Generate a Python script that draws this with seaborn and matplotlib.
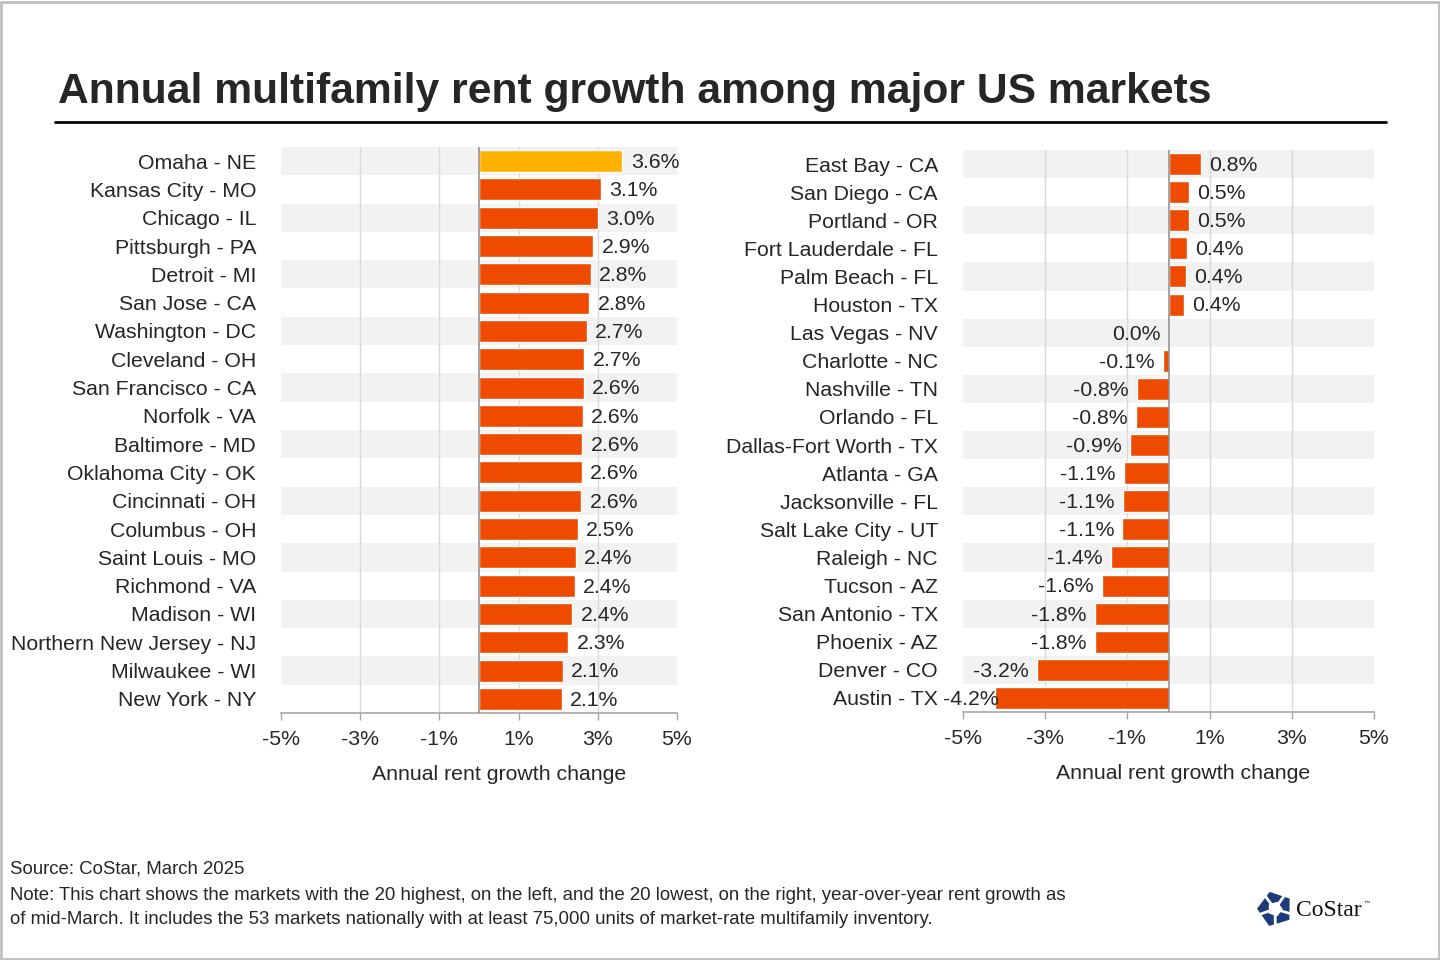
import numpy as np
import matplotlib
matplotlib.use('Agg')
import matplotlib.pyplot as plt
import seaborn as sns
import pandas as pd
from matplotlib.lines import Line2D
from matplotlib.patches import Rectangle, RegularPolygon

# top 20 markets (left panel)
top_markets = ['Omaha - NE', 'Kansas City - MO', 'Chicago - IL', 'Pittsburgh - PA',
               'Detroit - MI', 'San Jose - CA', 'Washington - DC', 'Cleveland - OH',
               'San Francisco - CA', 'Norfolk - VA', 'Baltimore - MD', 'Oklahoma City - OK',
               'Cincinnati - OH', 'Columbus - OH', 'Saint Louis - MO', 'Richmond - VA',
               'Madison - WI', 'Northern New Jersey - NJ', 'Milwaukee - WI', 'New York - NY']
top_growth = [3.62, 3.08, 3.0, 2.88, 2.82, 2.79, 2.72, 2.66, 2.64, 2.62,
              2.61, 2.6, 2.58, 2.49, 2.44, 2.42, 2.36, 2.26, 2.12, 2.09]

# bottom 20 markets (right panel)
low_markets = ['East Bay - CA', 'San Diego - CA', 'Portland - OR', 'Fort Lauderdale - FL',
               'Palm Beach - FL', 'Houston - TX', 'Las Vegas - NV', 'Charlotte - NC',
               'Nashville - TN', 'Orlando - FL', 'Dallas-Fort Worth - TX', 'Atlanta - GA',
               'Jacksonville - FL', 'Salt Lake City - UT', 'Raleigh - NC', 'Tucson - AZ',
               'San Antonio - TX', 'Phoenix - AZ', 'Denver - CO', 'Austin - TX']
low_growth = [0.79, 0.5, 0.5, 0.44, 0.42, 0.38, 0.0, -0.13, -0.77, -0.8,
              -0.94, -1.08, -1.1, -1.12, -1.4, -1.62, -1.79, -1.8, -3.2, -4.22]

x_ticks = [-5, -3, -1, 1, 3, 5]

ORANGE = '#EE4B00'
GOLD = '#FFB300'
BAND = '#F2F2F2'
GRID = '#D9D9D9'
FS = 15.3

sns.set_style('white')
plt.rcParams['font.family'] = ['Liberation Sans', 'DejaVu Sans']

fig = plt.figure(figsize=(14.4, 9.6), dpi=100)
W, H = 1440, 960


def panel(rect, names, vals, highlight=None, label_x=0.5):
    ax = fig.add_axes(rect)
    df = pd.DataFrame({'market': names, 'growth': vals})
    pal = {n: (GOLD if n == highlight else ORANGE) for n in names}
    sns.barplot(data=df, x='growth', y='market', hue='market', palette=pal,
                legend=False, orient='h', width=0.78, saturation=1, ax=ax, zorder=3)
    for i in range(len(names)):
        if i % 2 == 0:
            ax.axhspan(i - 0.5, i + 0.5, color=BAND, lw=0, zorder=0)
    ax.set_xlim(-5, 5)
    ax.set_ylim(len(names) - 0.5, -0.5)
    for t in x_ticks[1:-1]:
        ax.axvline(t, color=GRID, lw=1, zorder=1)
    ax.axvline(0, color='#8C8C8C', lw=1.1, zorder=4)
    ax.set_xticks(x_ticks)
    ax.set_xticklabels([f'{t}%' for t in x_ticks])
    ax.tick_params(axis='x', labelsize=FS, length=5, width=1, color='#A6A6A6', pad=7, bottom=True)
    ax.tick_params(axis='y', labelsize=FS, length=0, pad=18)
    ax.set_xlabel('Annual rent growth change', fontsize=FS, labelpad=12)
    ax.xaxis.label.set_x(label_x)
    ax.set_ylabel('')
    for s in ['top', 'right', 'left']:
        ax.spines[s].set_visible(False)
    ax.spines['bottom'].set_color('#A6A6A6')
    ax.spines['bottom'].set_linewidth(1.2)
    labels = []
    for i, v in enumerate(vals):
        if v > 0:
            t = ax.annotate(f'{v:.1f}%', (v, i), xytext=(6, -1), textcoords='offset points',
                            ha='left', va='center', fontsize=FS, zorder=5)
        else:
            t = ax.annotate(f'{v:.1f}%', (v, i), xytext=(-6, -1), textcoords='offset points',
                            ha='right', va='center', fontsize=FS, zorder=5)
        labels.append(t)
    return ax, labels


axL, labL = panel([281 / W, 1 - 713 / H, 396 / W, 566 / H], top_markets, top_growth,
                  highlight='Omaha - NE', label_x=0.55)
axR, labR = panel([963 / W, 1 - 712 / H, 411 / W, 562 / H], low_markets, low_growth,
                  label_x=0.535)

# keep negative labels from running past the category labels (like Excel does)
fig.canvas.draw()
r = fig.canvas.get_renderer()
for ax, labs in [(axL, labL), (axR, labR)]:
    x0 = ax.get_window_extent(r).x0
    for t in labs:
        bb = t.get_window_extent(r)
        if bb.x0 < x0 - 20:
            shift = (x0 - 20) - bb.x0
            ox, oy = t.xyann
            t.xyann = (ox + shift * 72 / fig.dpi, oy)

# title and rule
fig.text(58 / W, 1 - 103 / H, 'Annual multifamily rent growth among major US markets',
         fontsize=30.7, fontweight='bold', ha='left', va='baseline')
fig.add_artist(Line2D([55 / W, 1386 / W], [1 - 122 / H] * 2, color='black', lw=2))

# footer
fig.text(10 / W, 1 - 869 / H, 'Source: CoStar, March 2025', fontsize=13.4, va='center')
fig.text(10 / W, 1 - 896 / H,
         'Note: This chart shows the markets with the 20 highest, on the left, and the 20 lowest, '
         'on the right, year-over-year rent growth as', fontsize=13.4, va='center')
fig.text(10 / W, 1 - 919 / H,
         'of mid-March. It includes the 53 markets nationally with at least 75,000 units of '
         'market-rate multifamily inventory.', fontsize=13.4, va='center')

# logo
NAVY = '#1F3A7A'
logo = fig.add_axes([1257 / W, 1 - 927 / H, 36 / W, 36 / H])
logo.set_xlim(-1, 1)
logo.set_ylim(-1, 1)
logo.set_aspect('equal')
logo.axis('off')
logo.add_patch(RegularPolygon((0, 0), 5, radius=0.95, orientation=0.3, color=NAVY))
logo.add_patch(RegularPolygon((0, 0), 5, radius=0.38, orientation=0.3 + np.pi / 5, color='white'))
for k in range(5):
    a = np.pi / 2 + 0.3 + 2 * np.pi * k / 5 + 0.35
    logo.plot([0.2 * np.cos(a), 1.0 * np.cos(a)], [0.2 * np.sin(a), 1.0 * np.sin(a)],
              color='white', lw=2)
fig.text(1296 / W, 1 - 911 / H, 'CoStar', fontsize=17, family='Liberation Serif',
         va='center', ha='left', color='#111111')
fig.text(1363 / W, 1 - 904 / H, '\u2122', fontsize=6, family='DejaVu Sans', va='center')

# outer border
fig.add_artist(Rectangle((0.001, 0.001), 0.998, 0.997, transform=fig.transFigure,
                         fill=False, edgecolor='#BFBFBF', lw=2))

fig.savefig('out.png', dpi=100)
